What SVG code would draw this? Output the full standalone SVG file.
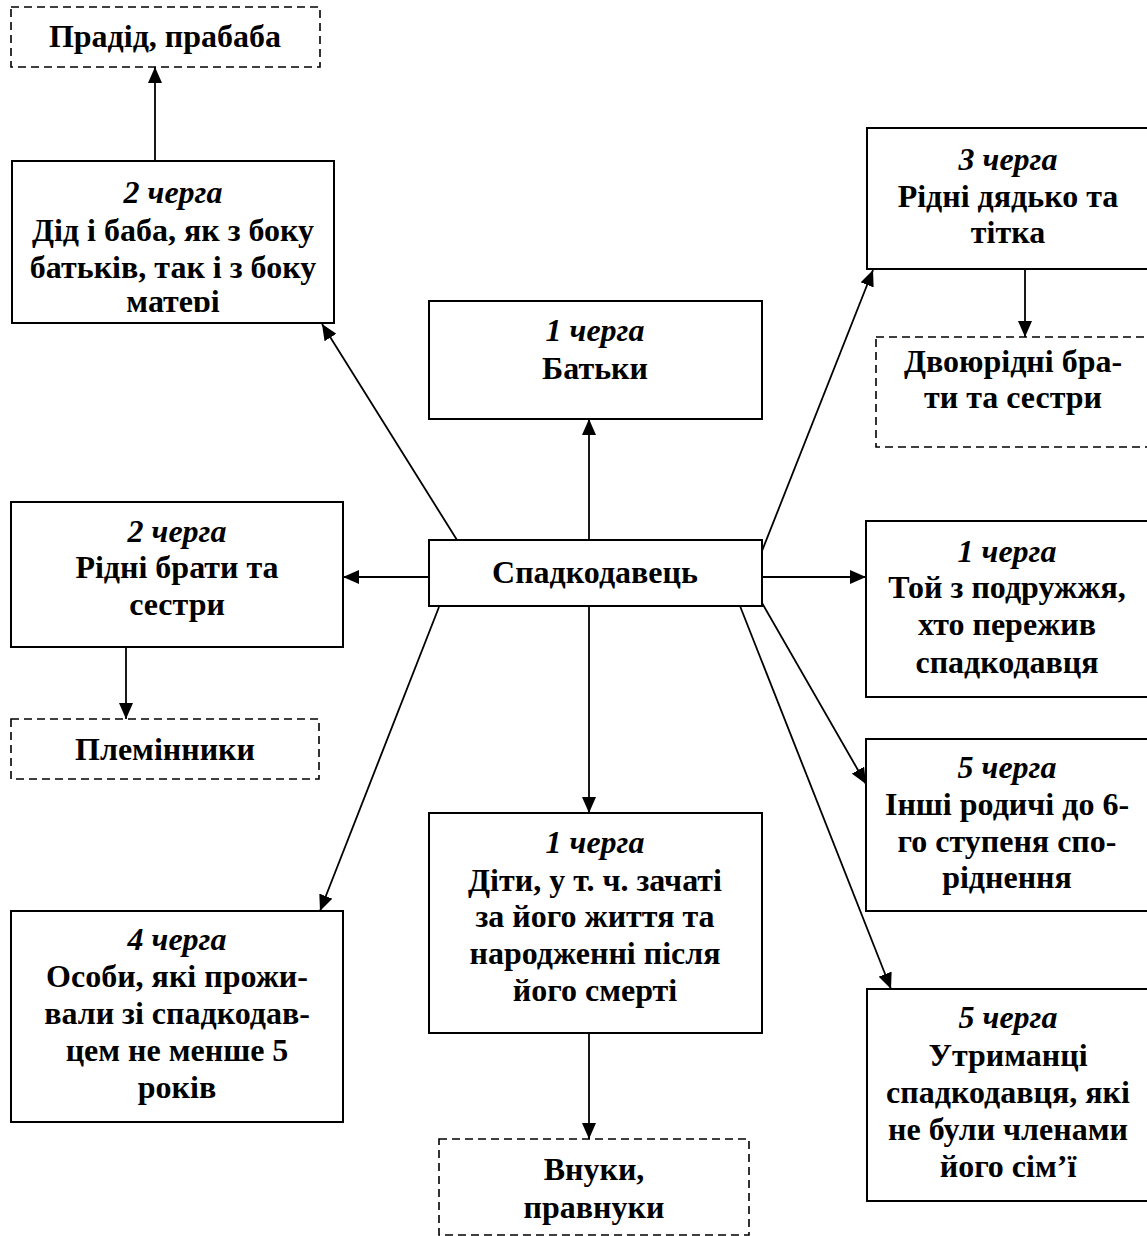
<svg xmlns="http://www.w3.org/2000/svg" width="1147" height="1236" viewBox="0 0 1147 1236">
<style>
.box{fill:#fff;stroke:#000;stroke-width:2}
.dash{fill:#fff;stroke:#000;stroke-width:1.6;stroke-dasharray:8 5}
text{font-family:"Liberation Serif","Times New Roman",serif;font-size:32px;font-weight:bold;text-anchor:middle;fill:#000}
.it{font-style:italic}
.ln{stroke:#000;stroke-width:1.8;fill:none}
</style>
<defs>
<marker id="ah" markerWidth="16" markerHeight="14" refX="16" refY="7" orient="auto" markerUnits="userSpaceOnUse"><path d="M0,0 L16,7 L0,14 Z" fill="#000"/></marker>
<clipPath id="clipDid"><rect x="12" y="161" width="322" height="151"/></clipPath>
</defs>
<rect width="1147" height="1236" fill="#fff"/>
<g id="connectors">
<line class="ln" x1="155" y1="161" x2="155" y2="67" marker-end="url(#ah)"/>
<line class="ln" x1="589" y1="540" x2="589" y2="419" marker-end="url(#ah)"/>
<line class="ln" x1="429" y1="577" x2="343" y2="577" marker-end="url(#ah)"/>
<line class="ln" x1="126" y1="647" x2="126" y2="719" marker-end="url(#ah)"/>
<line class="ln" x1="762" y1="577" x2="866" y2="577" marker-end="url(#ah)"/>
<line class="ln" x1="1025" y1="269" x2="1025" y2="337" marker-end="url(#ah)"/>
<line class="ln" x1="589" y1="606" x2="589" y2="813" marker-end="url(#ah)"/>
<line class="ln" x1="589" y1="1033" x2="589" y2="1139" marker-end="url(#ah)"/>
<line class="ln" x1="457" y1="540" x2="322" y2="324" marker-end="url(#ah)"/>
<line class="ln" x1="439" y1="607" x2="320" y2="911" marker-end="url(#ah)"/>
<line class="ln" x1="762" y1="551" x2="873" y2="270" marker-end="url(#ah)"/>
<line class="ln" x1="762" y1="603" x2="866" y2="784" marker-end="url(#ah)"/>
<line class="ln" x1="740" y1="606" x2="891" y2="989" marker-end="url(#ah)"/>
</g>
<g id="pradid">
<rect class="dash" x="11" y="7" width="309" height="60"/>
<text x="165" y="47">Прадід, прабаба</text>
</g>
<g id="did">
<rect class="box" x="12" y="161" width="322" height="162"/>
<g clip-path="url(#clipDid)">
<text x="173" y="203" class="it">2 черга</text>
<text x="173" y="241">Дід і баба, як з боку</text>
<text x="173" y="278">батьків, так і з боку</text>
<text x="173" y="312">матері</text>
</g>
</g>
<g id="batky">
<rect class="box" x="429" y="301" width="333" height="118"/>
<text x="595" y="341" class="it">1 черга</text>
<text x="595" y="379">Батьки</text>
</g>
<g id="dyadko">
<rect class="box" x="867" y="128" width="281" height="141"/>
<text x="1008" y="170" class="it">3 черга</text>
<text x="1008" y="207">Рідні дядько та</text>
<text x="1008" y="243">тітка</text>
</g>
<g id="dvoyuridni">
<rect class="dash" x="876" y="337" width="272" height="110"/>
<text x="1013" y="372">Двоюрідні бра-</text>
<text x="1013" y="408">ти та сестри</text>
</g>
<g id="spadkodavets">
<rect class="box" x="429" y="540" width="333" height="66"/>
<text x="595" y="583">Спадкодавець</text>
</g>
<g id="braty">
<rect class="box" x="11" y="502" width="332" height="145"/>
<text x="177" y="542" class="it">2 черга</text>
<text x="177" y="578">Рідні брати та</text>
<text x="177" y="615">сестри</text>
</g>
<g id="pleminnyky">
<rect class="dash" x="11" y="719" width="308" height="60"/>
<text x="165" y="760">Племінники</text>
</g>
<g id="podruzhzhia">
<rect class="box" x="866" y="521" width="282" height="176"/>
<text x="1007" y="562" class="it">1 черга</text>
<text x="1007" y="598">Той з подружжя,</text>
<text x="1007" y="635">хто пережив</text>
<text x="1007" y="673">спадкодавця</text>
</g>
<g id="inshi">
<rect class="box" x="866" y="739" width="282" height="172"/>
<text x="1007" y="778" class="it">5 черга</text>
<text x="1007" y="815">Інші родичі до 6-</text>
<text x="1007" y="852">го ступеня спо-</text>
<text x="1007" y="888">ріднення</text>
</g>
<g id="osoby">
<rect class="box" x="11" y="911" width="332" height="211"/>
<text x="177" y="950" class="it">4 черга</text>
<text x="177" y="987">Особи, які прожи-</text>
<text x="177" y="1024">вали зі спадкодав-</text>
<text x="177" y="1061">цем не менше 5</text>
<text x="177" y="1098">років</text>
</g>
<g id="dity">
<rect class="box" x="429" y="813" width="333" height="220"/>
<text x="595" y="853" class="it">1 черга</text>
<text x="595" y="891">Діти, у т. ч. зачаті</text>
<text x="595" y="927">за його життя та</text>
<text x="595" y="964">народженні після</text>
<text x="595" y="1001">його смерті</text>
</g>
<g id="vnuky">
<rect class="dash" x="439" y="1139" width="310" height="96"/>
<text x="594" y="1180">Внуки,</text>
<text x="594" y="1218">правнуки</text>
</g>
<g id="utrymantsi">
<rect class="box" x="867" y="989" width="281" height="212"/>
<text x="1008" y="1028" class="it">5 черга</text>
<text x="1008" y="1066">Утриманці</text>
<text x="1008" y="1103">спадкодавця, які</text>
<text x="1008" y="1140">не були членами</text>
<text x="1008" y="1177">його сім’ї</text>
</g>
</svg>
